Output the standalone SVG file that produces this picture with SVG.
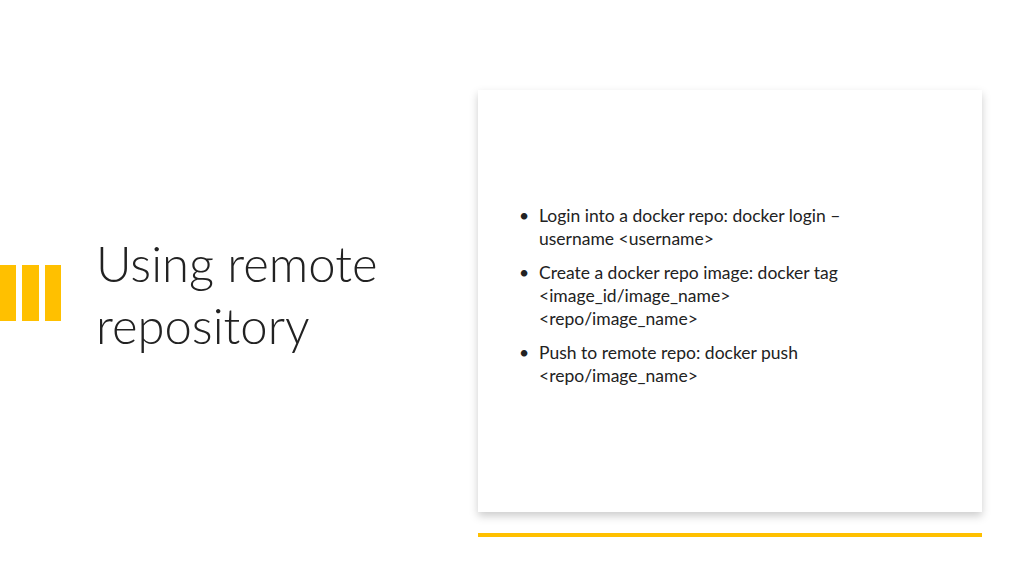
<svg xmlns="http://www.w3.org/2000/svg" width="1024" height="576" viewBox="0 0 1024 576">
<defs>
<filter id="sh" x="-5%" y="-5%" width="110%" height="115%"><feDropShadow dx="0" dy="4" stdDeviation="4" flood-color="#000" flood-opacity="0.2"/></filter>
<style>
.t{font-family:Lato,"Liberation Sans",sans-serif;fill:#222;}
.b{font-size:17.5px;}
.y{fill:#FFC000;}
</style>
</defs>
<rect width="1024" height="576" fill="#fff"/>
<g id="bars"><rect class="y" x="0" y="265" width="16" height="56"/><rect class="y" x="22" y="265" width="17" height="56"/><rect class="y" x="45" y="265" width="16" height="56"/></g>
<g id="title"><text class="t" x="96" y="282" font-size="49" font-weight="300">Using remote</text><text class="t" x="96" y="344" font-size="49" font-weight="300">repository</text></g>
<g id="card"><rect x="478" y="90" width="504" height="422" fill="#fff" filter="url(#sh)"/>
<g class="t b">
<text x="519" y="222">•</text><text x="539" y="222">Login into a docker repo: docker login –</text>
<text x="539" y="245">username &lt;username&gt;</text>
<text x="519" y="279">•</text><text x="539" y="279">Create a docker repo image: docker tag</text>
<text x="539" y="302">&lt;image_id/image_name&gt;</text>
<text x="539" y="325">&lt;repo/image_name&gt;</text>
<text x="519" y="359">•</text><text x="539" y="359">Push to remote repo: docker push</text>
<text x="539" y="382">&lt;repo/image_name&gt;</text>
</g></g>
<rect id="line" class="y" x="478" y="533" width="504" height="4"/>
</svg>
